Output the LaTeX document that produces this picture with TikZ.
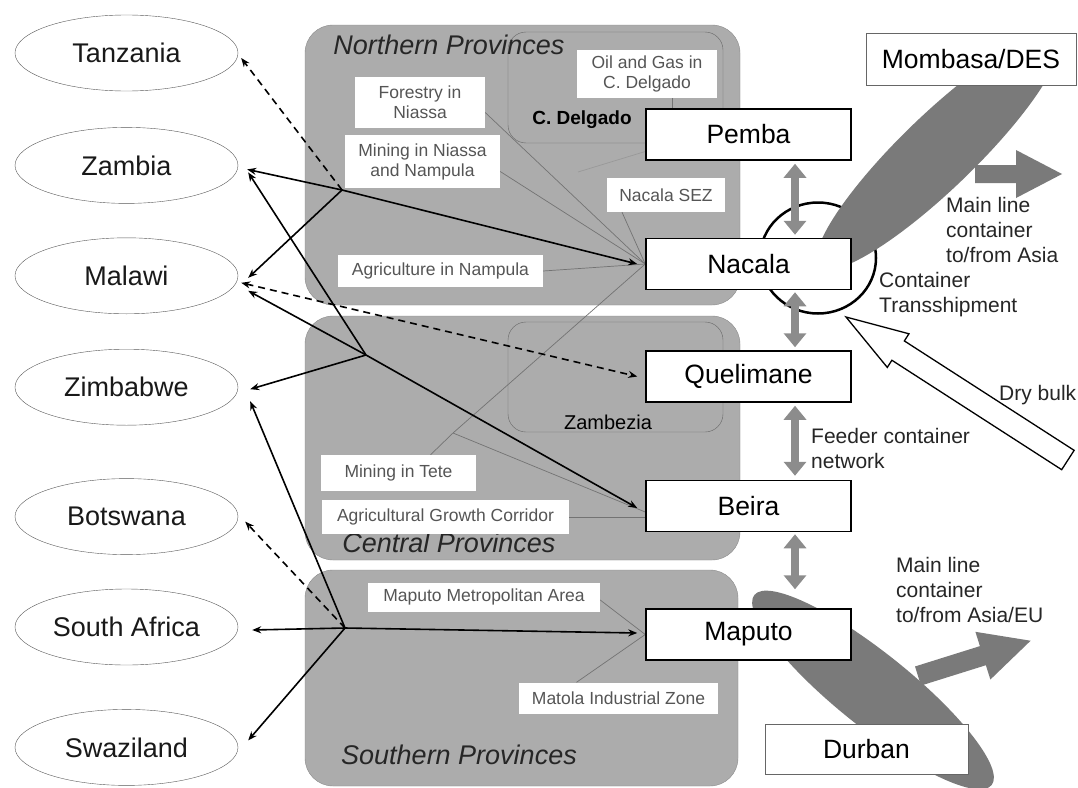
\documentclass[tikz,border=0pt]{standalone}
\usepackage{fontspec}
\setmainfont{Liberation Sans}
\usetikzlibrary{arrows.meta,positioning,shapes.geometric,calc}
\pgfdeclarelayer{back}\pgfdeclarelayer{mid}
\pgfsetlayers{back,mid,main}
\definecolor{provfill}{RGB}{172,172,172}
\definecolor{routegray}{RGB}{122,122,122}
\definecolor{shuttlegray}{RGB}{140,140,140}
\definecolor{tagtext}{RGB}{85,85,85}

\begin{document}
\begin{tikzpicture}[x=1pt,y=-1pt,country/.style={ellipse,draw=black!65,fill=white,minimum width=223pt,minimum height=76pt,inner sep=0pt,text=black!90,font=\fontsize{27}{30}\selectfont},port/.style={draw=black,line width=1.5pt,fill=white,minimum width=205pt,minimum height=51pt,inner sep=0pt,font=\fontsize{26.5}{30}\selectfont},farport/.style={port,draw=black!60,line width=1pt},prov/.style={draw=black!45,fill=provfill,rounded corners=28pt,inner sep=0pt},zone/.style={draw=black!60,fill=provfill,rounded corners=18pt,inner sep=0pt},provname/.style={text=black!85,font=\fontsize{27}{30}\selectfont\itshape},tag/.style={fill=white,inner sep=0pt,align=center,text=tagtext,font=\fontsize{17.5}{20}\selectfont},note/.style={anchor=west,align=left,inner sep=0pt,text=black!85,font=\fontsize{21}{25}\selectfont},feed/.style={draw=black!55,line width=0.7pt},link/.style={line width=1.6pt,-{Stealth[length=9pt,width=7pt]}},dashlink/.style={link,dash pattern=on 7pt off 5pt},shuttle/.style={draw=shuttlegray,line width=8pt,{Triangle[width=22pt,length=14pt]}-{Triangle[width=22pt,length=14pt]}},bulk/.style={draw=black,fill=white,line width=1.3pt,line join=miter}]
\useasboundingbox (0,0) rectangle (1078,787);
\begin{pgfonlayer}{back}
\fill[white] (0,0) rectangle (1078,787);
\node[prov,minimum width=435pt,minimum height=280pt] (north) at (522.5,165) {};
\node[prov,minimum width=435pt,minimum height=244pt] (central) at (522.5,438) {};
\node[prov,minimum width=433pt,minimum height=216pt] (south) at (521.5,678) {};
\node[zone,minimum width=215pt,minimum height=111pt] (delgado) at (615.5,87.5) {};
\node[zone,minimum width=215pt,minimum height=110pt] (zambezia) at (615.5,377) {};
\end{pgfonlayer}

\node[country] (tanz) at (126.5,53) {Tanzania};
\node[country,below=36pt of tanz] (zamb) {Zambia};
\node[country,below=34pt of zamb] (malw) {Malawi};
\node[country,below=35pt of malw] (zimb) {Zimbabwe};
\node[country,below=53pt of zimb] (bots) {Botswana};
\node[country,below=34pt of bots] (safr) {South Africa};
\node[country,below=44pt of safr] (swaz) {Swaziland};

\node[port] (pemba) at (748.5,134.5) {Pemba};
\node[port,below=77pt of pemba] (nacala) {Nacala};
\node[port,below=60pt of nacala] (quel) {Quelimane};
\node[port,below=77pt of quel] (beira) {Beira};
\node[port,below=76pt of beira] (maputo) {Maputo};
\node[farport,minimum width=210pt,minimum height=52pt] (mombasa) at (971,59) {Mombasa/DES};
\node[farport,minimum width=203pt,minimum height=50pt] (durban) at (866.5,749) {Durban};

\node[provname] (northname) at (449,45) {Northern Provinces};
\node[provname] (centralname) at (449,543) {Central Provinces};
\node[provname] (southname) at (459,755) {Southern Provinces};
\node[font=\fontsize{19}{22}\selectfont\bfseries] (delgname) at (582,120) {C. Delgado};
\node[font=\fontsize{20}{24}\selectfont] (zambname) at (608,422) {Zambezia};

\node[tag,minimum width=130pt,minimum height=51pt] (forestry) at (420,102.5) {Forestry in\\Niassa};
\node[tag,minimum width=155pt,minimum height=53pt] (mining) at (422.5,161.5) {Mining in Niassa\\and Nampula};
\node[tag,minimum width=205pt,minimum height=32pt] (agri) at (440.5,271) {Agriculture in Nampula};
\node[tag,minimum width=140pt,minimum height=48pt] (oilgas) at (647,74) {Oil and Gas in\\C. Delgado};
\node[tag,minimum width=118pt,minimum height=34pt] (sez) at (666,195) {Nacala SEZ};
\node[tag,minimum width=155pt,minimum height=36pt] (tete) at (398.5,473) {Mining in Tete};
\node[tag,minimum width=247pt,minimum height=34pt] (agc) at (445.5,517) {Agricultural Growth Corridor};
\node[tag,minimum width=232pt,minimum height=29pt] (mma) at (484,597) {Maputo Metropolitan Area};
\node[tag,minimum width=199pt,minimum height=31pt] (matola) at (618.5,698) {Matola Industrial Zone};

\node[note] (asiatxt) at (946,230) {Main line\\container\\to/from Asia};
\node[note] (transtxt) at (879,294.5) {Container\\Transshipment};
\node[note] (feedtxt) at (811,448) {Feeder container\\network};
\node[note] (bulktxt) at (999,395) {Dry bulk};
\node[note] (eutxt) at (896,590) {Main line\\container\\to/from Asia/EU};

\coordinate (hubN) at (342,190);
\coordinate (hubC) at (366,355);
\coordinate (hubS) at (345,628);
\coordinate (tfork) at (453,433);
\coordinate (pstub) at (578,172);

\begin{pgfonlayer}{mid}
\draw[feed] ([yshift=-10pt]forestry.east)--(nacala.west);\draw[feed] ([yshift=-10pt]mining.east)--(nacala.west);
\draw[feed] (agri.east)--(nacala.west);\draw[feed] ([xshift=-44pt]sez.south)--(nacala.west);
\draw[feed] ([xshift=25pt]oilgas.south)--++(0,11);\draw[feed,draw=black!40] ([yshift=-17pt]pemba.west)--(pstub);
\draw[feed] ([xshift=32pt]tete.north)--(tfork)--(nacala.west);\draw[feed] (tfork)--([yshift=-6pt]beira.west);
\draw[feed] (agc.east)--(agc.east -| beira.west);
\draw[feed] ([yshift=-3pt]mma.east)--(maputo.west);\draw[feed] ([xshift=-42pt]matola.north)--(maputo.west);

\draw[link] (hubN)--($(nacala.west)+(-8,0)$);
\draw[link] (hubN)--($(zamb.east)+(9,4)$);\draw[link] (hubN)--($(malw.east)+(10,2)$);
\draw[dashlink] (hubN)--($(tanz.east)+(3,5)$);
\draw[link] (hubC)--($(beira.west)+(-8,2)$);
\draw[link] (hubC)--($(zamb.east)+(10,7)$);\draw[link] (hubC)--($(malw.east)+(10,15)$);
\draw[link] (hubC)--($(zimb.east)+(12,2)$);
\draw[dashlink,{Stealth[length=9pt,width=7pt]}-{Stealth[length=9pt,width=7pt]}] ($(malw.east)+(3,7)$)--($(quel.west)+(-8,0)$);
\draw[link] (hubS)--($(zimb.east)+(12,14)$);\draw[dashlink] (hubS)--($(bots.east)+(7,5)$);
\draw[link] (hubS)--($(safr.east)+(14,3)$);\draw[link] (hubS)--($(swaz.east)+(10,-7)$);
\draw[link] (hubS)--($(maputo.west)+(-8,-1.5)$);

\node[draw,ellipse,line width=2.5pt,minimum width=116pt,minimum height=111pt,inner sep=0pt] (tranship) at (818,258) {};
\fill[routegray,rotate around={44:(938,152)}] (938,152) ellipse [x radius=165pt,y radius=37pt];
\fill[routegray] (975,165)--(1016,165)--(1016,150)--(1062,174)--(1016,198)--(1016,183)--(975,183)--cycle;
\fill[routegray,rotate around={-38.7:(873,690)}] (873,690) ellipse [x radius=152pt,y radius=37pt];
\fill[routegray,shift={(918,676)},rotate=17.4] (0,-10)--(68,-10)--(68,-25)--(118,0)--(68,25)--(68,10)--(0,10)--cycle;
\draw[bulk,shift={(846,317)},rotate=-32.8] (0,0)--(62,-20)--(62,-11.5)--(264,-11.5)--(264,11.5)--(62,11.5)--(62,20)--cycle;

\draw[shuttle] ([xshift=46.5pt,yshift=-3pt]pemba.south)--([xshift=46.5pt,yshift=3pt]nacala.north);
\draw[shuttle] ([xshift=46.5pt,yshift=-2pt]nacala.south)--([xshift=46.5pt,yshift=3pt]quel.north);
\draw[shuttle] ([xshift=46.5pt,yshift=-3pt]quel.south)--([xshift=46.5pt,yshift=4pt]beira.north);
\draw[shuttle] ([xshift=46.5pt,yshift=-2pt]beira.south)--([xshift=46.5pt,yshift=19pt]maputo.north);
\end{pgfonlayer}
\end{tikzpicture}
\end{document}
